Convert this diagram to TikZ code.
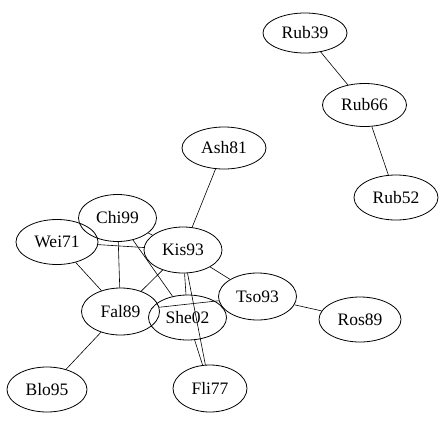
\documentclass[tikz,border=0pt]{standalone}
\usepackage{fontspec}
\setmainfont{Liberation Serif}
\usetikzlibrary{shapes.geometric}
\begin{document}
\begin{tikzpicture}[x=1pt,y=1pt,
  nd/.style 2 args={draw, ellipse, line width=0.8pt, inner sep=0pt,
    minimum width=#1pt, minimum height=#2pt,
    font=\fontsize{17.5}{20}\selectfont},
  edge/.style={line width=0.6pt}]
\useasboundingbox (0,0) rectangle (445,-421);
\node[nd={84}{40}] (rub39) at (305,-33) {Rub39};
\node[nd={84}{43}] (rub66) at (364.5,-105) {Rub66};
\node[nd={84}{45}] (rub52) at (396,-197.5) {Rub52};
\node[nd={84}{42}] (ash81) at (224,-148) {Ash81};
\node[nd={78}{47}] (chi99) at (117.5,-218) {Chi99};
\node[nd={82}{45}] (wei71) at (57,-242) {Wei71};
\node[nd={78}{46}] (kis93) at (183,-250) {Kis93};
\node[nd={78}{47}] (tso93) at (257.5,-296.5) {Tso93};
\node[nd={78}{47}] (fal89) at (120.5,-311.5) {Fal89};
\node[nd={78}{45}] (she02) at (187.5,-317.5) {She02};
\node[nd={80}{45}] (blo95) at (47,-389.5) {Blo95};
\node[nd={74}{47}] (fli77) at (210,-388.5) {Fli77};
\node[nd={82}{45}] (ros89) at (360,-319.5) {Ros89};
\draw[edge] (rub39) -- (rub66);
\draw[edge] (rub66) -- (rub52);
\draw[edge] (ash81) -- (kis93);
\draw[edge] (chi99) -- (fal89);
\draw[edge] (chi99) -- (she02);
\draw[edge] (chi99) -- (kis93);
\draw[edge] (wei71) -- (kis93);
\draw[edge] (wei71) -- (fal89);
\draw[edge] (kis93) -- (fal89);
\draw[edge] (kis93) -- (she02);
\draw[edge] (kis93) -- (fli77);
\draw[edge] (she02) -- (fli77);
\draw[edge] (kis93) -- (tso93);
\draw[edge] (fal89) -- (tso93);
\draw[edge] (fal89) -- (blo95);
\draw[edge] (tso93) -- (ros89);
\end{tikzpicture}
\end{document}
